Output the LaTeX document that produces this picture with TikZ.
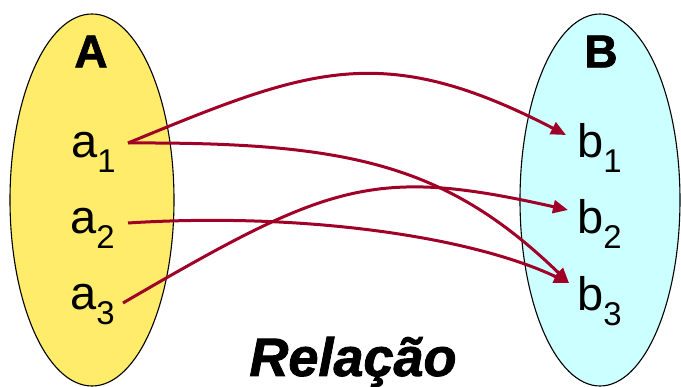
\documentclass[tikz,border=0pt]{standalone}
\usepackage{fontspec}
\setmainfont{Liberation Sans}
\newfontfamily\heavyfont[FakeBold=1.6]{Liberation Sans Bold}
\newfontfamily\heavyitfont[FakeBold=1.6]{Liberation Sans Bold Italic}
\usetikzlibrary{arrows.meta}
\definecolor{setA}{RGB}{255,236,106}
\definecolor{setB}{RGB}{204,255,255}
\definecolor{maplink}{RGB}{160,0,40}
\begin{document}
\begin{tikzpicture}[x=1pt,y=-1pt,
  setshape/.style={draw=black,line width=1.1pt},
  setname/.style={font=\heavyfont\fontsize{46}{46}\selectfont,inner sep=0pt},
  elem/.style={font=\fontsize{47}{47}\selectfont,inner sep=0pt,anchor=base west},
  link/.style={draw=maplink,line width=3pt,-{Triangle[length=15pt,width=13pt]}}]
\useasboundingbox (0,0) rectangle (681,387);
\begin{scope}
\clip (0,0) rectangle (681,387);
% the two sets
\filldraw[setshape,fill=setA] (92,200) ellipse [x radius=82,y radius=186];
\filldraw[setshape,fill=setB] (600,200) ellipse [x radius=80,y radius=186];
\end{scope}
\node[setname] (A) at (91,51.5) {A};
\node[setname] (B) at (601,51.5) {B};
% elements
\node[elem] (a1) at (71,158) {a\textsubscript{1}};
\node[elem] (a2) at (70,234) {a\textsubscript{2}};
\node[elem] (a3) at (70,310) {a\textsubscript{3}};
\node[elem] (b1) at (577,158) {b\textsubscript{1}};
\node[elem] (b2) at (577,234) {b\textsubscript{2}};
\node[elem] (b3) at (577,311) {b\textsubscript{3}};
% the relation's pairs
\coordinate (s1) at (128,143);
\coordinate (s2) at (128,223);
\coordinate (s3) at (123,303);
\coordinate (t1) at (566,135);
\coordinate (t2) at (568,210);
\coordinate (t3) at (569,283);
\draw[link] (s1) .. controls (308,69) and (381,39) .. (t1);
\draw[link] (s1) .. controls (348,142) and (446,164) .. (t3);
\draw[link] (s2) .. controls (300,212) and (470,236) .. (t3);
\draw[link] (s3) .. controls (329,183) and (373,166) .. (t2);
\node[font=\heavyitfont\fontsize{54}{54}\selectfont,inner sep=0pt] (rel) at (353,362) {Relação};
\end{tikzpicture}
\end{document}
